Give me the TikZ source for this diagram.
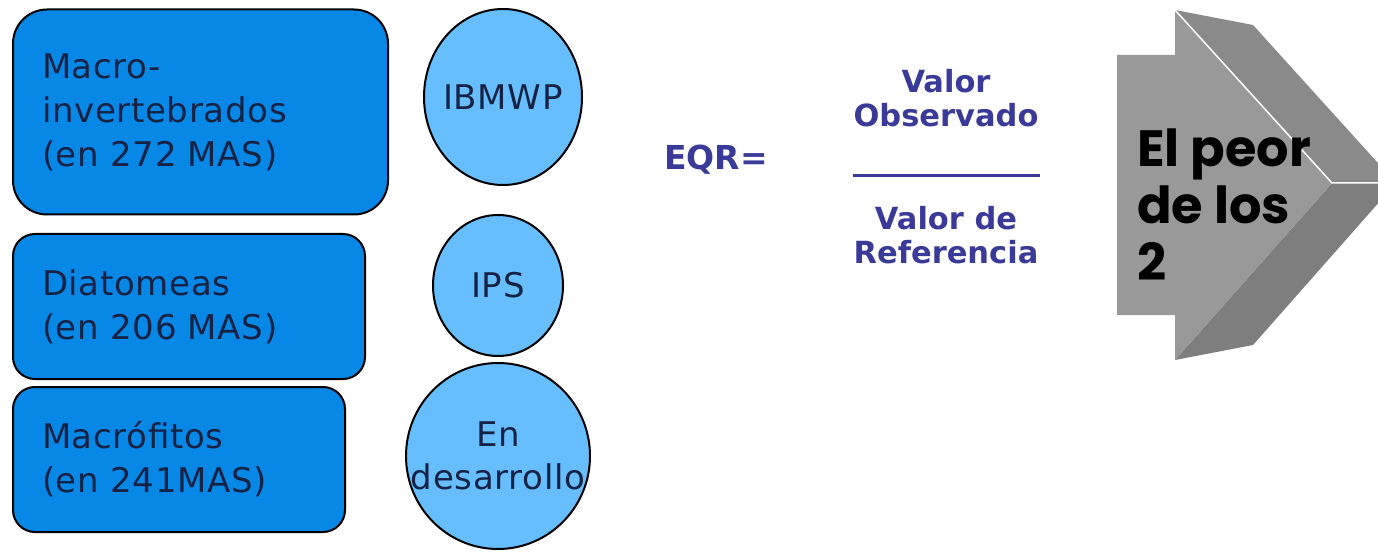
\documentclass[tikz,border=0pt]{standalone}
\usepackage{fontspec}
\setmainfont{DejaVu Sans}
\newfontfamily\boxfont[LetterSpace=2]{DejaVu Sans}
\newfontfamily\arrowfont{Poppins}
\usetikzlibrary{shapes.geometric}
\definecolor{boxblue}{RGB}{8,136,230}
\definecolor{ellblue}{RGB}{102,190,255}
\definecolor{darktxt}{RGB}{22,34,68}
\definecolor{eqrblue}{RGB}{58,58,152}
\definecolor{grayfront}{RGB}{153,153,153}
\definecolor{graytop}{RGB}{138,138,138}
\definecolor{graybot}{RGB}{126,126,126}
\begin{document}
\begin{tikzpicture}[x=1pt,y=-1pt,
  groupbox/.style={draw=black, line width=2pt, fill=boxblue, rounded corners=#1,
    inner xsep=29pt, inner ysep=0pt, align=left, text=darktxt,
    font=\boxfont\fontsize{34}{44}\selectfont},
  indexell/.style={draw=black, line width=2pt, fill=ellblue, ellipse, inner sep=0pt,
    align=center, text=darktxt, font=\boxfont\fontsize{34}{43}\selectfont},
  eqrtxt/.style={text=eqrblue, align=center, inner sep=0pt,
    font=\bfseries\fontsize{30.5}{34}\selectfont}
]
\useasboundingbox (0,0) rectangle (1378,553);
\fill[white] (0,0) rectangle (1378,553);

% left boxes
\node[groupbox=34pt, text width=317pt, minimum height=205pt] (macroinv) at (200.5,112)
  {Macro-\\invertebrados\\(en 272 MAS)};
\node[groupbox=22pt, text width=294pt, minimum height=145pt] (diat) at (189,306.5)
  {Diatomeas\\(en 206 MAS)};
\node[groupbox=22pt, text width=274pt, minimum height=145pt] (macrof) at (179,459.5)
  {Macrófitos\\(en 241MAS)};

% ellipses
\node[indexell, minimum width=158pt, minimum height=176pt] (ibmwp) at (503,97)
  {\makebox[0pt]{IBMWP}};
\node[indexell, minimum width=130pt, minimum height=141pt] (ips) at (498,285.5)
  {\makebox[0pt]{IPS}};
\node[indexell, minimum width=184pt, minimum height=186pt] (endes) at (498,456)
  {\makebox[0pt]{En}\\\makebox[0pt]{desarrollo}};

% EQR formula
\node[eqrtxt, anchor=west, font=\bfseries\fontsize{33}{36}\selectfont] (eqr) at (664,160) {EQR=};
\node[eqrtxt] (num) at (946,98) {Valor\\Observado};
\node[eqrtxt] (den) at (946,235) {Valor de\\Referencia};
\coordinate (fracl) at (853,176);
\coordinate (fracr) at (1040,176);
\draw[eqrblue, line width=3pt] (fracl) -- (fracr);

% 3D arrow
\begin{scope}
\clip (0,0) rectangle (1378,553);
\fill[graytop] (1175,10) -- (1253,25) -- (1396,183) -- (1332,183) -- cycle;
\fill[graybot] (1332,183) -- (1396,183) -- (1253,345) -- (1175,360) -- cycle;
\fill[grayfront] (1117,55) -- (1175,55) -- (1175,10) -- (1332,183) -- (1175,360)
  -- (1175,315) -- (1117,315) -- cycle;
\draw[white, line width=1.5pt] (1175,10) -- (1332,183) -- (1380,183);
\end{scope}
\node[anchor=west, align=left, inner sep=0pt, text=black,
  font=\arrowfont\bfseries\fontsize{51}{57}\selectfont] (worst) at (1137,205)
  {El peor\\de los\\2};
\end{tikzpicture}
\end{document}
